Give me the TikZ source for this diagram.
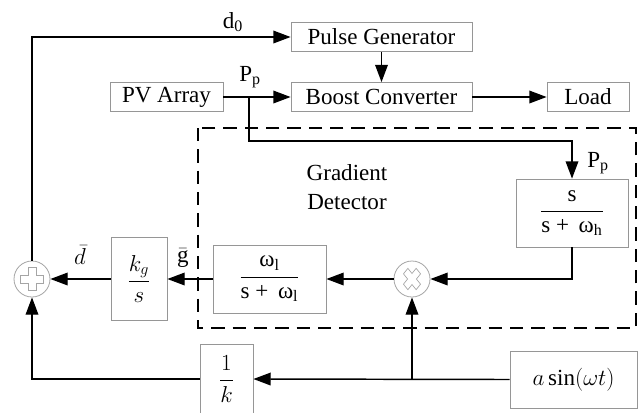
\documentclass[tikz,border=0pt]{standalone}
\usepackage{fontspec}
\setmainfont{Liberation Serif}
\usetikzlibrary{
  arrows.meta,
  positioning,
  calc
}
\definecolor{boxcolor}{RGB}{150, 150, 150}
\definecolor{glyphcolor}{RGB}{165, 165, 165}
\definecolor{wirecolor}{RGB}{0, 0, 0}
\tikzset{
blocktext/.style={
  align=center,
  font=\fontsize{17.28}{21.75}\selectfont,
  text=black
},
block/.style={
  draw=boxcolor,
  line width=0.6pt,
  fill=white,
  inner sep=0pt,
  blocktext
},
junction/.style={
  circle,
  draw=glyphcolor,
  line width=0.6pt,
  fill=white,
  minimum size=27pt,
  inner sep=0pt
},
siglabel/.style={
  blocktext,
  inner sep=0pt
},
wire/.style={
  line width=1.1pt,
  draw=wirecolor
},
arrow/.style={
  -{Triangle[length=13pt,width=9.5pt]},
  wire
},
detectorframe/.style={
  draw=wirecolor,
  line width=1.1pt,
  dash pattern=on 10pt off 6pt
},
crossglyph/.pic={
  \draw[glyphcolor, line width=0.5pt]
    (-4,-11.5) -- (4,-11.5) -- (4,-4) -- (11.5,-4) -- (11.5,4) -- (4,4)
    -- (4,11.5) -- (-4,11.5) -- (-4,4) -- (-11.5,4) -- (-11.5,-4) -- (-4,-4) -- cycle;
}
}

\begin{document}
\begin{tikzpicture}[x=0.75pt, y=-0.75pt]
  \useasboundingbox (0,0) rectangle (641,412);

  % gradient detector frame
  \draw[detectorframe] (198,128) rectangle (636,328);
  \node[blocktext] (gdlabel) at (347,187) {Gradient\\Detector};

  % power stage
  \node[block, minimum width=135.75pt, minimum height=21.75pt] (pulse) at (381.5,37) {Pulse Generator};
  \node[block, minimum width=84.75pt, minimum height=21.75pt] (pvarray) at (166.5,97) {PV Array};
  \node[block, minimum width=135.75pt, minimum height=21.75pt] (boost) at (381.5,97) {Boost Converter};
  \node[block, minimum width=61.5pt, minimum height=21.75pt] (load) at (588,97) {Load};

  % detector blocks
  \node[block, minimum width=84pt, minimum height=51pt] (hpf) at (572,213)
    {$\displaystyle\frac{\mbox{s}}{\mbox{s +\, ω\textsubscript{h}}}$};
  \node[junction] (mult) at (412,279) {};
  \pic[yscale=1.25, rotate=45, scale=0.78] at (mult) {crossglyph};
  \node[block, minimum width=84.75pt, minimum height=51pt] (lpf) at (269.5,279)
    {$\displaystyle\frac{\mbox{ω\textsubscript{l}}}{\mbox{s +\, ω\textsubscript{l}}}$};

  % integrator and sum
  \node[block, minimum width=42pt, minimum height=62.25pt] (integ) at (139,279)
    {$\displaystyle\frac{k_g}{s}$};
  \node[junction] (sum) at (32,279) {};
  \pic at (sum) {crossglyph};

  % perturbation path
  \node[block, minimum width=95.25pt, minimum height=42.75pt] (dither) at (573.5,379.5)
    {$a\sin(\omega t)$};
  \node[block, minimum width=39.75pt, minimum height=52.5pt] (gaink) at (226.5,379)
    {$\displaystyle\frac{1}{k}$};

  % connectors
  \coordinate (ptap) at (249,97);
  \coordinate (dtap) at (mult |- dither.west);
  \draw[arrow] (sum.north) |- (pulse.west);
  \draw[arrow] (pulse) -- (boost);
  \draw[arrow] (pvarray) -- (boost);
  \draw[arrow] (boost) -- (load);
  \draw[arrow] (ptap) -- ++(0,44) -| (hpf.north);
  \draw[arrow] (hpf.south) |- (mult.east);
  \draw[arrow] (mult.west) -- (lpf.east);
  \draw[arrow] (lpf.west) -- (integ.east);
  \draw[arrow] (integ.west) -- (sum.east);
  \draw[arrow] (dither.west) -- (gaink.east);
  \draw[arrow] (dtap) -- (mult.south);
  \draw[arrow] (gaink.west) -| (sum.south);

  % signal labels
  \node[siglabel] (dzero) at (233,22) {d\textsubscript{0}};
  \node[siglabel] (ppone) at (250,77) {P\textsubscript{p}};
  \node[siglabel] (pptwo) at (598,163) {P\textsubscript{p}};
  \node[siglabel] (dbar) at (80,255) {$\bar{d}$};
  \node[siglabel] (gbar) at (183,258) {$\bar{\mbox{g}}$};
\end{tikzpicture}
\end{document}
